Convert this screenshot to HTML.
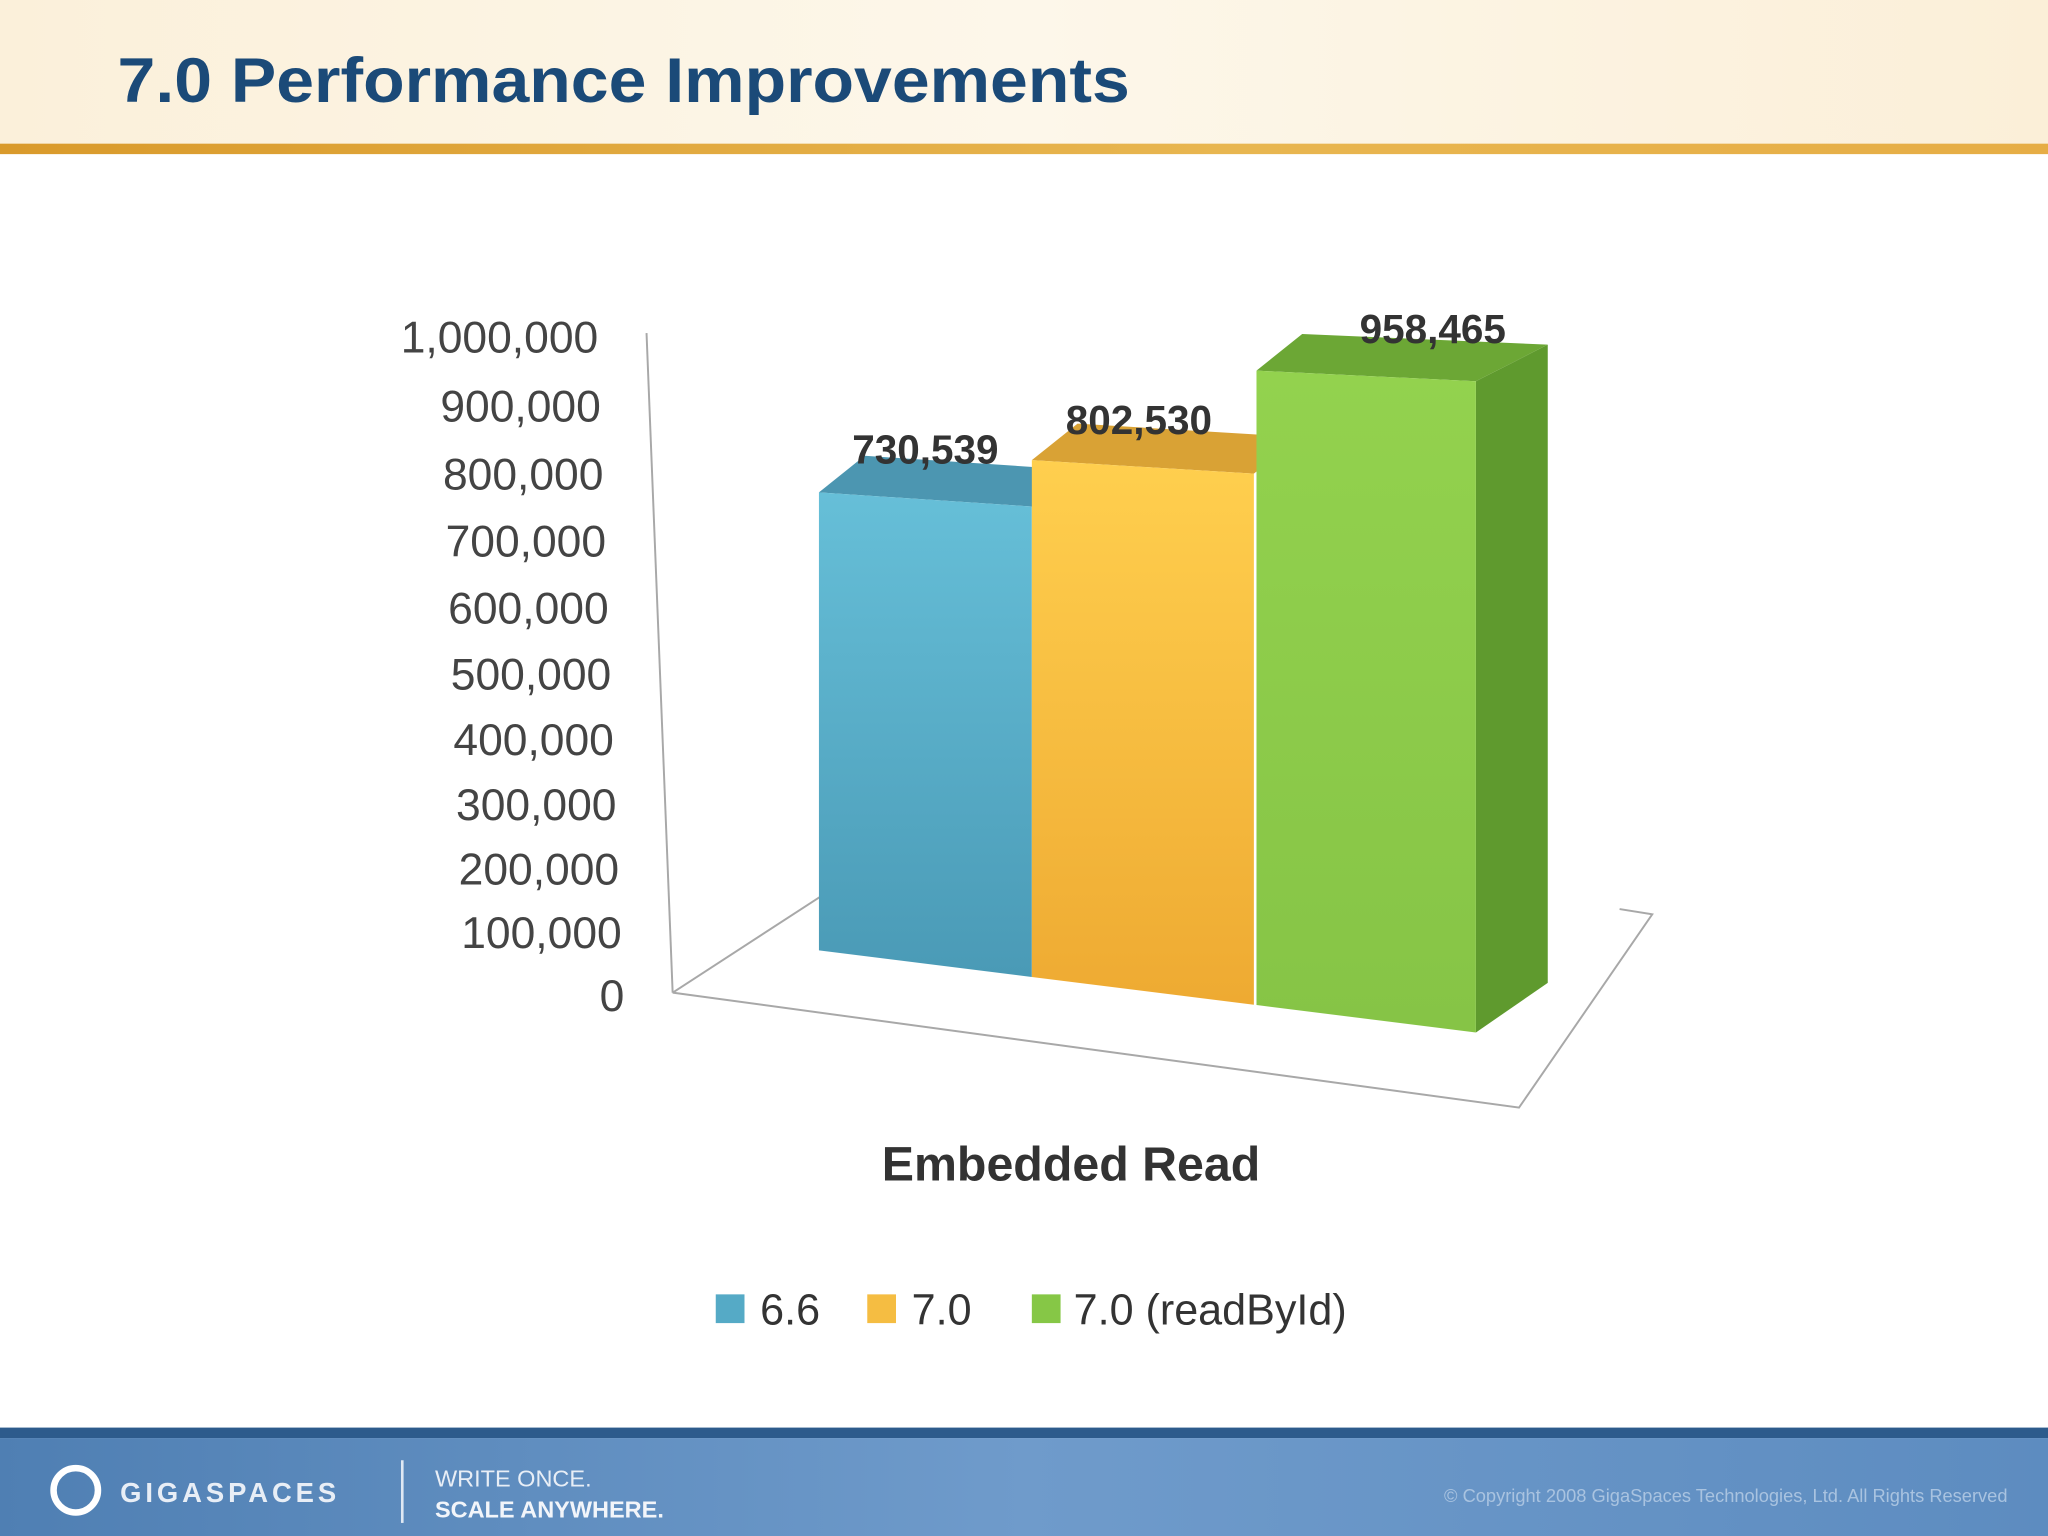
<!DOCTYPE html>
<html><head><meta charset="utf-8"><style>
html,body{margin:0;padding:0;background:#fff;}
svg{display:block;font-family:"Liberation Sans",sans-serif;}
</style></head><body>
<svg id="chart" width="2048" height="1536" viewBox="0 0 1568 1176" xmlns="http://www.w3.org/2000/svg">
<defs>
<linearGradient id="hdr" x1="0" y1="0" x2="1" y2="0"><stop offset="0" stop-color="#fbf0da"/><stop offset="0.5" stop-color="#fdf7ea"/><stop offset="1" stop-color="#fbefd8"/></linearGradient>
<linearGradient id="gold" x1="0" y1="0" x2="1" y2="0"><stop offset="0" stop-color="#d99a2b"/><stop offset="0.6" stop-color="#e8b650"/><stop offset="1" stop-color="#e6ad45"/></linearGradient>
<linearGradient id="ftr" x1="0" y1="0" x2="1" y2="0"><stop offset="0" stop-color="#4f7fb3"/><stop offset="0.5" stop-color="#6f9bcb"/><stop offset="1" stop-color="#5d8cc0"/></linearGradient>
<linearGradient id="gb" x1="0" y1="0" x2="0" y2="1"><stop offset="0" stop-color="#66bfd8"/><stop offset="1" stop-color="#4a9ab6"/></linearGradient>
<linearGradient id="go" x1="0" y1="0" x2="0" y2="1"><stop offset="0" stop-color="#ffcf4e"/><stop offset="1" stop-color="#eeaa32"/></linearGradient>
<linearGradient id="gg" x1="0" y1="0" x2="0" y2="1"><stop offset="0" stop-color="#93d24e"/><stop offset="1" stop-color="#86c446"/></linearGradient>
</defs>
<rect x="0" y="0" width="1568" height="112" fill="url(#hdr)"/>
<rect x="0" y="110" width="1568" height="8" fill="url(#gold)"/>
<text x="90" y="78" font-size="48" font-weight="bold" fill="#1b4a78" textLength="775" lengthAdjust="spacingAndGlyphs">7.0 Performance Improvements</text>

<g id="axes" fill="none" stroke="#a8a8a8" stroke-width="1.5">
<line x1="495" y1="255" x2="515" y2="760"/>
<polyline points="515,760 1163,848 1265,700 1240,696"/>
<line x1="515" y1="760" x2="635" y2="682"/>
</g>
<g id="yticks"></g>
<g id="bars"></g>
<g id="labels"></g>

<text x="820" y="904" text-anchor="middle" font-size="37" font-weight="bold" fill="#333">Embedded Read</text>

<g font-size="33" fill="#333">
<rect x="548" y="991" width="22" height="22" fill="#55aac6"/>
<text x="582" y="1014">6.6</text>
<rect x="664" y="991" width="22" height="22" fill="#f5bd42"/>
<text x="698" y="1014">7.0</text>
<rect x="790" y="991" width="22" height="22" fill="#86c746"/>
<text x="822" y="1014">7.0 (readById)</text>
</g>

<rect x="0" y="1093" width="1568" height="8" fill="#2d5b8c"/>
<rect x="0" y="1101" width="1568" height="75" fill="url(#ftr)"/>
<circle cx="58" cy="1141" r="17" fill="none" stroke="#fff" stroke-width="5"/>
<text x="92" y="1150" font-size="21" font-weight="bold" fill="#e8eef6" letter-spacing="3">GIGASPACES</text>
<line x1="308" y1="1118" x2="308" y2="1166" stroke="#dfe8f3" stroke-width="2"/>
<text x="333" y="1138" font-size="18" fill="#e8eef6">WRITE ONCE.</text>
<text x="333" y="1162" font-size="18" font-weight="bold" fill="#f2f5fa">SCALE ANYWHERE.</text>
<text x="1537" y="1150" text-anchor="end" font-size="14" fill="#a9c3e0">© Copyright 2008 GigaSpaces Technologies, Ltd. All Rights Reserved</text>
</svg>
<script>
const categories = ["Embedded Read"];
const seriesNames = ["6.6", "7.0", "7.0 (readById)"];
const seriesValues = [730539, 802530, 958465];
const valueLabels = ["730,539", "802,530", "958,465"];
const tickValues = [0,100000,200000,300000,400000,500000,600000,700000,800000,900000,1000000];
const tickLabels = ["0","100,000","200,000","300,000","400,000","500,000","600,000","700,000","800,000","900,000","1,000,000"];

const NS = "http://www.w3.org/2000/svg";
function yAxis(v){const t=v/1e6;return 762-480*t-24*t*t;}
function yAxisX(v){return 478-20*(v/1e6);}
function floorY(x){return 728+0.125*(x-630);}
function kScale(x){return 480+(x-627)*0.08;}
function topY(x,v){return floorY(x)-(v/1e6)*kScale(x);}
function mk(tag,attrs){const e=document.createElementNS(NS,tag);for(const k in attrs)e.setAttribute(k,attrs[k]);return e;}

const yt=document.getElementById('yticks');
tickValues.forEach((v,i)=>{
  const t=mk('text',{x:yAxisX(v),y:yAxis(v)+12,'text-anchor':'end','font-size':'34',fill:'#444'});
  
  
  t.textContent=tickLabels[i];yt.appendChild(t);
});

const bx=[[627,790],[790,960],[962,1130]];
const fronts=['url(#gb)','url(#go)','url(#gg)'];
const tops=['#4c96b1','#d9a235','#6ca735'];
const sides=['#3f86a0','#c98f25','#5f9a2e'];
const labDx=[0,-3,51];
const labDy=[-22,-20,-21];
const bars=document.getElementById('bars'),labs=document.getElementById('labels');
const dx=35,dy=-28;
seriesValues.forEach((v,i)=>{
  const [x0,x1]=bx[i];
  const g=mk('g',{});
  
  
  const b0=floorY(x0),b1=floorY(x1),t0=topY(x0,v),t1=topY(x1,v);
  if(i===seriesValues.length-1){
    const s=mk('polygon',{points:`${x1},${t1} ${x1+dx+20},${t1+dy} ${x1+dx+20},${b1+dy-10} ${x1},${b1}`,fill:sides[i]});
    
    
    g.appendChild(s);
  }
  const tp=mk('polygon',{points:`${x0},${t0} ${x0+dx},${t0+dy} ${x1+dx+(i===2?20:0)},${t1+dy} ${x1},${t1}`,fill:tops[i]});
  
  
  g.appendChild(tp);
  const f=mk('polygon',{points:`${x0},${t0} ${x1},${t1} ${x1},${b1} ${x0},${b0}`,fill:fronts[i]});
  
  
  g.appendChild(f);
  bars.appendChild(g);
  const l=mk('text',{x:(x0+x1)/2+labDx[i],y:t0+labDy[i],'text-anchor':'middle','font-size':'31','font-weight':'bold',fill:'#333'});
  
  
  l.textContent=valueLabels[i];labs.appendChild(l);
});
</script>
</body></html>
